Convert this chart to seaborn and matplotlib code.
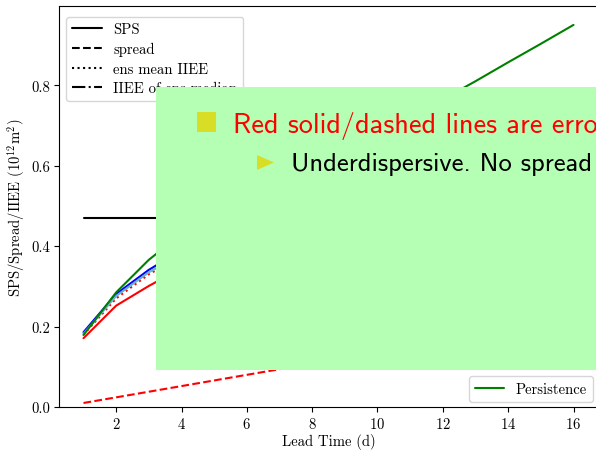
import matplotlib
matplotlib.use("Agg")
import matplotlib.pyplot as plt
from matplotlib.lines import Line2D
from matplotlib.patches import Rectangle, Polygon
import seaborn as sns

# lead time (days) and curves
days = [1, 2, 3, 4, 5, 6, 7, 8, 9, 10, 11, 12, 13, 14, 15, 16]
sps_clim = [0.471] * 16
persistence = [0.179, 0.285, 0.366, 0.43, 0.49, 0.54, 0.58, 0.62, 0.66, 0.70,
               0.73, 0.765, 0.81, 0.857, 0.903, 0.950]

days_short = [1, 2, 3, 4]
sps_red = [0.171, 0.252, 0.301, 0.345]
sps_blue = [0.186, 0.281, 0.341, 0.39]
sps_cyan = [0.182, 0.276, 0.335, 0.38]
iiee_red = [0.180, 0.270, 0.330, 0.375]

days_spread = [1, 2, 3, 4, 5, 6, 7, 8]
spread_red = [0.010, 0.024, 0.038, 0.052, 0.066, 0.080, 0.094, 0.108]

style_labels = ["SPS", "spread", "ens mean IIEE", "IIEE of ens median"]
style_dashes = ["-", "--", ":", "-."]

sns.set_theme(context="notebook", style="ticks", rc={
    "axes.edgecolor": "black",
    "xtick.color": "black",
    "ytick.color": "black",
    "axes.labelcolor": "black",
    "text.color": "black",
})
plt.rcParams["font.family"] = ["cmr10", "DejaVu Serif"]
plt.rcParams["mathtext.fontset"] = "cm"
plt.rcParams["axes.formatter.use_mathtext"] = True

fs = 10.6
fig = plt.figure(figsize=(5.96, 4.52), dpi=100)
ax = fig.add_axes([59 / 596, 44 / 452, 539 / 596, 401 / 452])

lw = 1.5
sns.lineplot(x=days, y=sps_clim, color="black", lw=lw, ax=ax)
sns.lineplot(x=days_short, y=sps_red, color="red", lw=lw, ax=ax)
sns.lineplot(x=days_short, y=iiee_red, color="red", lw=lw, linestyle=":", ax=ax)
sns.lineplot(x=days_short, y=sps_blue, color="blue", lw=lw, ax=ax)
sns.lineplot(x=days_short, y=sps_cyan, color="c", lw=lw, ax=ax)
sns.lineplot(x=days, y=persistence, color="green", lw=lw, ax=ax)
sns.lineplot(x=days_spread, y=spread_red, color="red", lw=lw, linestyle="--", ax=ax)

ax.set_xlim(0.25, 16.75)
ax.set_ylim(0, 0.997)
ax.set_xticks(range(2, 17, 2))
ax.set_yticks([0.0, 0.2, 0.4, 0.6, 0.8])
ax.set_yticklabels(["0.0", "0.2", "0.4", "0.6", "0.8"])
ax.tick_params(labelsize=fs, length=3.5, width=0.8, pad=3)
for s in ax.spines.values():
    s.set_visible(True)
    s.set_linewidth(0.8)
ax.set_xlabel("Lead Time (d)", fontsize=fs, labelpad=1.5)
ax.set_ylabel("SPS/Spread/IIEE ($10^{12}$m$^2$)", fontsize=fs, labelpad=3)

handles = [Line2D([], [], color="black", lw=lw, linestyle=d) for d in style_dashes]
leg1 = ax.legend(handles, style_labels, loc="upper left", fontsize=fs, frameon=True,
                 framealpha=0.8, edgecolor="0.8", fancybox=True, labelspacing=0.4,
                 bbox_to_anchor=(0.0, 0.992))
ax.add_artist(leg1)
ax.legend([Line2D([], [], color="green", lw=lw)], ["Persistence"], loc="lower right",
          fontsize=fs, frameon=True, framealpha=0.8, edgecolor="0.8", fancybox=True,
          borderaxespad=0.35)

# overlay box from the slide
W, H = 596.0, 452.0
fig.add_artist(Rectangle((156 / W, 1 - 371 / H), 500 / W, 283 / H, transform=fig.transFigure,
                         facecolor="#b5ffb5", edgecolor="none", zorder=10))
fig.add_artist(Rectangle((197 / W, 1 - 133 / H), 19 / W, 20 / H, transform=fig.transFigure,
                         facecolor="#d8de26", edgecolor="none", zorder=11))
fig.add_artist(Polygon([(257 / W, 1 - 156 / H), (274 / W, 1 - 163.5 / H), (257 / W, 1 - 171 / H)],
                       closed=True, transform=fig.transFigure, facecolor="#d8de26",
                       edgecolor="none", zorder=11))
fig.text(233 / W, 1 - 133 / H, "Red solid/dashed lines are errors", color="red",
         fontsize=20.4, family=["cmss10", "DejaVu Sans"], va="baseline", zorder=12)
fig.text(291 / W, 1 - 171 / H, "Underdispersive. No spread", color="black",
         fontsize=19.2, family=["cmss10", "DejaVu Sans"], va="baseline", zorder=12)

fig.savefig("out.png", dpi=100)
